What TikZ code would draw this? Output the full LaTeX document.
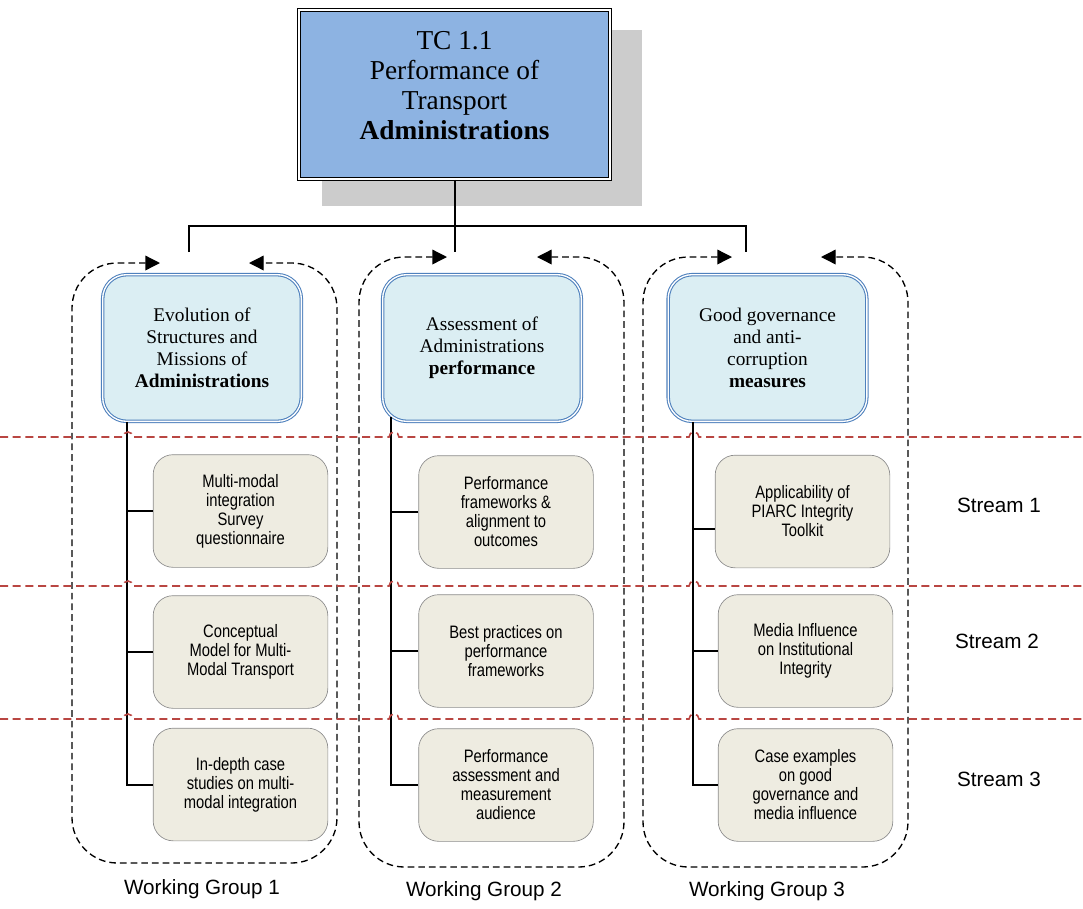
\documentclass[tikz,border=0pt]{standalone}
\usepackage{fontspec}
\setmainfont{Liberation Serif}
\setsansfont{Liberation Sans}
\newfontfamily\narrowsans[FakeStretch=0.82]{Liberation Sans}
\usetikzlibrary{arrows.meta}

\definecolor{tcblue}{RGB}{141,179,226}
\definecolor{shadowgray}{RGB}{204,204,204}
\definecolor{headfill}{RGB}{219,238,243}
\definecolor{headline}{RGB}{79,129,189}
\definecolor{taskfill}{RGB}{238,236,225}
\definecolor{taskline}{RGB}{140,140,140}
\definecolor{streamred}{RGB}{185,70,66}

\tikzset{
	tcbox/.style={draw=black, double=white, double distance=1.2pt, line width=1pt, fill=tcblue,
		minimum width=233pt, minimum height=127pt, align=center, text depth=13pt,
		font=\fontsize{20.5}{22.5}\selectfont},
	grouphead/.style={draw=headline, double=white, double distance=1pt, line width=0.8pt, fill=headfill,
		rounded corners=18pt, minimum width=149pt, minimum height=110pt, align=center,
		font=\fontsize{14.5}{16.5}\selectfont},
	task/.style={draw=taskline, line width=0.5pt, fill=taskfill, rounded corners=15pt,
		minimum width=131pt, minimum height=84.5pt, align=center,
		font=\narrowsans\fontsize{13.5}{14.25}\selectfont},
	wgframe/.style={line width=1pt, dash pattern=on 5pt off 3pt, rounded corners=34pt,
		{Triangle[length=11pt,width=11pt]}-{Triangle[length=11pt,width=11pt]}},
	streamrule/.style={streamred, line width=1.2pt, dash pattern=on 6pt off 3.5pt},
	wglabel/.style={font=\sffamily\fontsize{15.5}{18}\selectfont},
	link/.style={line width=1.5pt}
}

\begin{document}
\begin{tikzpicture}[x=0.75pt, y=-0.75pt]
	\useasboundingbox (0,0) rectangle (1083,908);

	% shadow behind the committee box
	\fill[shadowgray] (322,30) rectangle (642,206);

	\node[tcbox]     (tc)  at (454.5,94.5) {TC 1.1\\Performance of\\Transport\\\textbf{Administrations}};

	\node[grouphead] (g1)  at (202,348)    {Evolution of\\Structures and\\Missions of\\\textbf{Administrations}};
	\node[grouphead] (g2)  at (482,348)    {Assessment of\\Administrations\\\textbf{performance}};
	\node[grouphead] (g3)  at (767.5,348)  {Good governance\\and anti-\\corruption\\\textbf{measures}};

	\node[task]      (g1a) at (240.5,511)  {Multi-modal\\integration\\Survey\\questionnaire};
	\node[task]      (g1b) at (240.5,652)  {Conceptual\\Model for Multi-\\Modal Transport};
	\node[task]      (g1c) at (240.5,784.5){In-depth case\\studies on multi-\\modal integration};
	\node[task]      (g2a) at (506,512)    {Performance\\frameworks \&\\alignment to\\outcomes};
	\node[task]      (g2b) at (506,651)    {Best practices on\\performance\\frameworks};
	\node[task]      (g2c) at (506,785)    {Performance\\assessment and\\measurement\\audience};
	\node[task]      (g3a) at (802.5,511.5){Applicability of\\PIARC Integrity\\Toolkit};
	\node[task]      (g3b) at (805.5,651)  {Media Influence\\on Institutional\\Integrity};
	\node[task]      (g3c) at (805.5,785)  {Case examples\\on good\\governance and\\media influence};

	\node[wglabel]   (s1)  at (999,505)    {Stream 1};
	\node[wglabel]   (s2)  at (997,641)    {Stream 2};
	\node[wglabel]   (s3)  at (999,779)    {Stream 3};
	\node[wglabel]   (w1)  at (202,889)    {Working Group 1};
	\node[wglabel]   (w2)  at (484,891)    {Working Group 2};
	\node[wglabel]   (w3)  at (767,891)    {Working Group 3};

	% committee to working groups
	\coordinate (j1) at (189,252);
	\coordinate (j3) at (746,252);
	\draw[link] (tc.south) -- (tc.south |- j1);
	\draw[link] (j1) -- ++(0,-26) -| (j3);

	% spines of the working groups
	\coordinate (sp1) at ([xshift=19pt]g1.south west);
	\coordinate (sp2) at ([xshift=7pt,yshift=3.5pt]g2.south west);
	\coordinate (sp3) at ([xshift=19pt]g3.south west);
	\draw[link] (sp1) |- (g1c.west);
	\draw[link] (g1a.west) -- (g1a.west -| sp1);
	\draw[link] (g1b.west) -- (g1b.west -| sp1);
	\draw[link] (sp2) |- (g2c.west);
	\draw[link] (g2a.west) -- (g2a.west -| sp2);
	\draw[link] (g2b.west) -- (g2b.west -| sp2);
	\draw[link] (sp3) |- (g3c.west);
	\draw[link] ([yshift=-12.75pt]g3a.west) -- ([yshift=-12.75pt]g3a.west -| sp3);
	\draw[link] (g3b.west) -- (g3b.west -| sp3);

	% dashed working group frames
	\draw[wgframe] (160,263) -- (72,263)  -- (72,863)  -- (337,863) -- (337,263) -- (249,263);
	\draw[wgframe] (447,257) -- (359,257) -- (359,867) -- (624,867) -- (624,257) -- (537,257);
	\draw[wgframe] (732,257) -- (643,257) -- (643,867) -- (908,867) -- (908,257) -- (821,257);

	% stream separators, hopping over the spines
	\foreach \y in {437,586,719}
		\draw[streamrule] (0,\y) -- (123,\y) arc[start angle=180, end angle=0, radius=3.75pt]
			-- (389,\y) arc[start angle=180, end angle=0, radius=3.75pt]
			-- (689,\y) arc[start angle=180, end angle=0, radius=3.75pt] -- (1083,\y);
\end{tikzpicture}
\end{document}
